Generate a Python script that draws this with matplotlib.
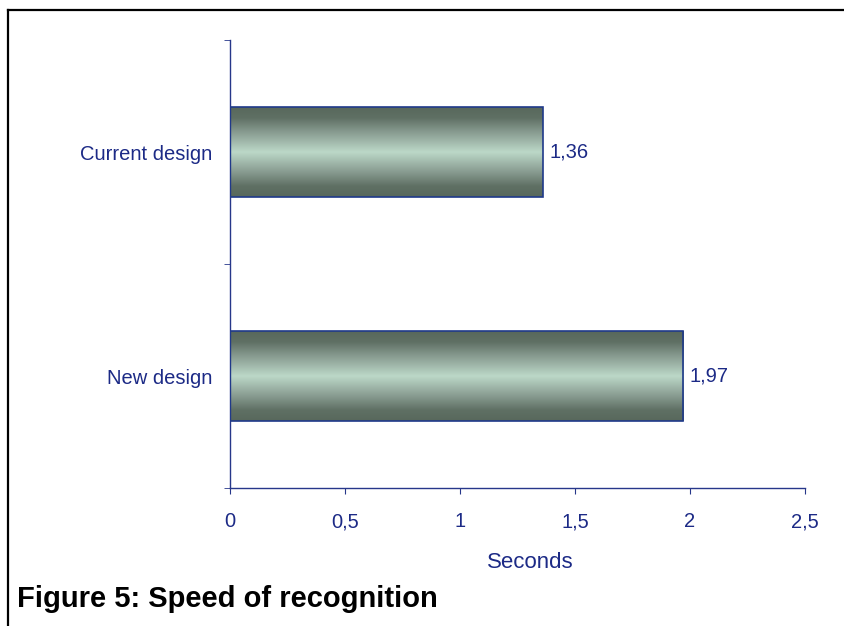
import numpy as np
import matplotlib
matplotlib.use("Agg")
import matplotlib.pyplot as plt
from matplotlib.colors import LinearSegmentedColormap
from matplotlib.patches import Rectangle
from matplotlib.lines import Line2D

categories = ["Current design", "New design"]
values = [1.36, 1.97]
value_labels = ["1,36", "1,97"]
xticks = [0, 0.5, 1, 1.5, 2, 2.5]
xtick_labels = ["0", "0,5", "1", "1,5", "2", "2,5"]
xlabel = "Seconds"
caption = "Figure 5: Speed of recognition"

plt.rcParams['font.family'] = ['Liberation Sans', 'DejaVu Sans']
navy = "#1c2a86"
axis_col = "#27378a"

fig = plt.figure(figsize=(8.45, 6.26), dpi=100)
ax = fig.add_axes([230/845, 1-488/626, 575/845, 448/626])

cmap = LinearSegmentedColormap.from_list("bar", [
    (0.0, "#58685c"), (0.12, "#5f7064"), (0.27, "#86998e"),
    (0.5, "#bcd8c8"), (0.73, "#86998e"), (0.88, "#5f7064"), (1.0, "#58685c")])
grad = np.linspace(0, 1, 256).reshape(-1, 1)

bar_h = 0.4
ypos = [1.5, 0.5]
for y, v, lab in zip(ypos, values, value_labels):
    im = ax.imshow(grad, cmap=cmap, aspect='auto', origin='lower',
                   extent=[0, v, y - bar_h/2, y + bar_h/2], zorder=2,
                   interpolation='bilinear')
    rect = Rectangle((0, y - bar_h/2), v, bar_h, fill=False,
                     edgecolor="#1f3a8a", linewidth=1.2, zorder=3)
    ax.add_patch(rect)
    im.set_clip_path(rect)
    ax.text(v + 0.028, y, lab, va='center', ha='left', fontsize=14.5, color=navy)

ax.set_xlim(0, 2.5)
ax.set_ylim(0, 2)
ax.set_xticks(xticks)
ax.set_xticklabels(xtick_labels, fontsize=14.5, color=navy)
ax.set_yticks(ypos)
ax.set_yticklabels(categories, fontsize=14.5, color=navy)
ax.set_yticks([0, 1, 2], minor=True)
ax.tick_params(axis='y', which='major', length=0, pad=13)
ax.tick_params(axis='y', which='minor', length=4.5, color=axis_col, direction='out')
ax.tick_params(axis='x', length=4.5, color=axis_col, direction='out', pad=13)

for s in ['top', 'right']:
    ax.spines[s].set_visible(False)
for s in ['left', 'bottom']:
    ax.spines[s].set_color(axis_col)
    ax.spines[s].set_linewidth(1.0)

fig.text(530/845, 1-562/626, xlabel, ha='center', va='center', fontsize=16, color=navy)
fig.text(17/845, 1-599/626, caption, ha='left', va='center', fontsize=21,
         fontweight='bold', color='black')

# outer frame (left and top)
fig.add_artist(Line2D([8/845, 8/845], [0, 1-10/626], transform=fig.transFigure,
                      color='black', linewidth=1.6))
fig.add_artist(Line2D([8/845, 1], [1-10/626, 1-10/626], transform=fig.transFigure,
                      color='black', linewidth=1.6))

fig.savefig("out.png", dpi=100)
